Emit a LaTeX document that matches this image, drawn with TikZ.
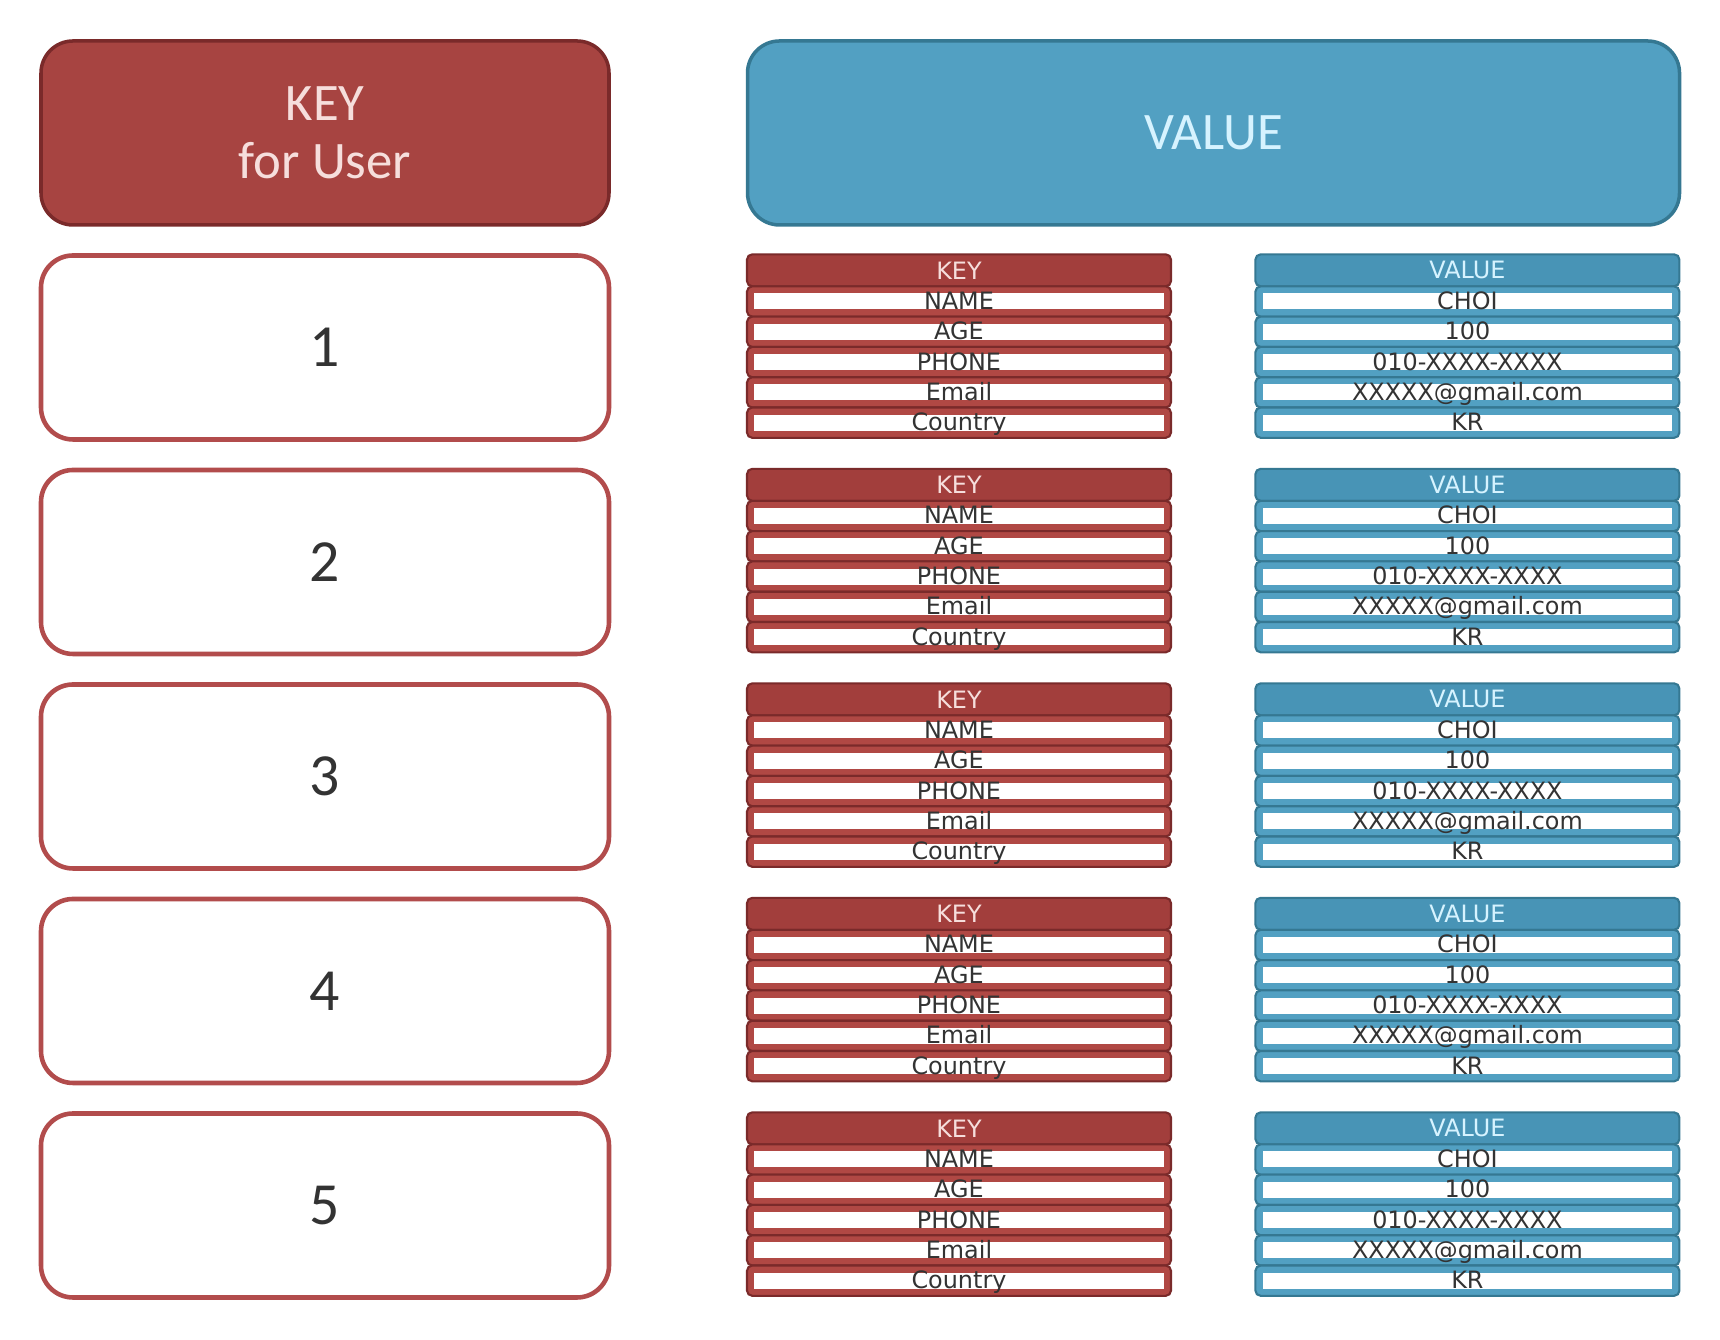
\documentclass[tikz,border=0pt]{standalone}
\usepackage{fontspec}
\setmainfont{Carlito}
\newfontfamily\tablefont{DejaVu Sans}
\usetikzlibrary{positioning}

\definecolor{keyred}{HTML}{B04844}
\definecolor{keyredHdr}{HTML}{A23E3C}
\definecolor{keyredDark}{HTML}{7A2A2A}
\definecolor{keyText}{HTML}{F6DEDC}
\definecolor{userRed}{HTML}{B24C4C}
\definecolor{valblue}{HTML}{52A0C2}
\definecolor{valblueHdr}{HTML}{4894B6}
\definecolor{valblueDark}{HTML}{357892}
\definecolor{valText}{HTML}{D6F3FF}

\begin{document}
\begin{tikzpicture}[
        headbox/.style={
            rectangle,
            rounded corners=0.32cm,
            line width=1pt,
            minimum height=1.84cm,
            inner sep=0pt,
            align=center,
            font=\fontsize{15}{16.5}\selectfont
        },
        keyhead/.style={
            headbox,
            fill=keyred!95!black,
            draw=keyredDark,
            text=keyText,
            minimum width=5.68cm
        },
        valhead/.style={
            headbox,
            fill=valblue,
            draw=valblueDark,
            text=valText,
            minimum width=9.32cm
        },
        userbox/.style={
            rectangle,
            rounded corners=0.32cm,
            draw=userRed,
            fill=white,
            line width=1.3pt,
            minimum width=5.68cm,
            minimum height=1.84cm,
            text=black!80,
            font=\fontsize{17}{20}\selectfont
        },
        tablebox/.style={
            rectangle,
            minimum width=4.24cm,
            minimum height=1.87cm,
            inner sep=0pt
        },
        bar/.style={
            rectangle,
            rounded corners=1.5pt,
            line width=0.6pt,
            minimum width=4.24cm,
            inner sep=0pt,
            font=\tablefont\fontsize{6.8}{7}\selectfont
        },
        keybar/.style={bar, fill=keyred, draw=keyredDark, minimum height=0.303cm},
        keytop/.style={bar, fill=keyredHdr, draw=keyredDark, minimum height=0.32cm, text=keyText},
        valbar/.style={bar, fill=valblue, draw=valblueDark, minimum height=0.303cm},
        valtop/.style={bar, fill=valblueHdr, draw=valblueDark, minimum height=0.32cm, text=valText},
        cell/.style={
            rectangle,
            fill=white,
            inner sep=0pt,
            minimum width=4.09cm,
            text height=0.16cm,
            text depth=0pt,
            text=black!80,
            font=\tablefont\fontsize{6.8}{7}\selectfont
        }
    ]

    \useasboundingbox (0,0) rectangle (17.2,13.4);

    % Cabeceras
    \node[keyhead] (keyhdr) at (3.25,12.07) {KEY\\for User};
    \node[valhead, right=1.35cm of keyhdr] (valhdr) {VALUE};

    % Usuarios y sus tablas
    \foreach \i in {1,...,5} {
        \pgfmathsetmacro{\ypos}{9.925-(\i-1)*2.145}
        \node[userbox] (u\i) at (3.25,\ypos) {\i};
        \node[tablebox, right=1.35cm of u\i] (kt\i) {};
        \node[tablebox, right=0.83cm of kt\i] (vt\i) {};

        \node[keytop, anchor=north] (kt\i-h) at (kt\i.north) {KEY};
        \node[valtop, anchor=north] (vt\i-h) at (vt\i.north) {VALUE};

        \foreach \r/\ktxt/\vtxt in {1/NAME/CHOI, 2/AGE/100, 3/PHONE/010-XXXX-XXXX,
                                    4/Email/XXXXX@gmail.com, 5/Country/KR} {
            \node[keybar, anchor=north] (kt\i-b\r)
                at ([yshift={-0.32cm-(\r-1)*0.303cm}]kt\i.north) {};
            \node[cell] (kt\i-c\r) at (kt\i-b\r) {\ktxt};
            \node[valbar, anchor=north] (vt\i-b\r)
                at ([yshift={-0.32cm-(\r-1)*0.303cm}]vt\i.north) {};
            \node[cell] (vt\i-c\r) at (vt\i-b\r) {\vtxt};
        }
    }

\end{tikzpicture}
\end{document}
